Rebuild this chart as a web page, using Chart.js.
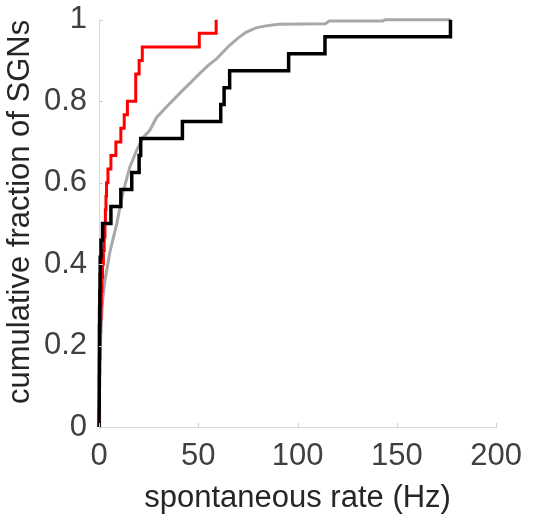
<!DOCTYPE html>
<html>
<head>
<meta charset="utf-8">
<script src="https://cdn.jsdelivr.net/npm/chart.js@4.4.1/dist/chart.umd.min.js"></script>
<style>
  html, body { margin: 0; padding: 0; background: #fff; }
</style>
</head>
<body>
<canvas id="cdfChart" width="533" height="517"></canvas>
<script>
// sorted spontaneous rates (Hz), one per fibre
const redRates = [0.05, 0.1, 0.2, 0.3, 0.4, 0.5, 0.6, 0.8, 1.0, 1.2,
                  1.5, 1.8, 2.2, 2.6, 3.0, 3.2, 3.5, 3.8, 4.5, 6.0,
                  8.5, 11.0, 12.7, 14.3, 18.5, 18.5, 20.2, 21.8, 50.5, 59.0];
const blackRates = [0.05, 0.1, 0.1, 0.15, 0.2, 0.2, 0.3, 0.4, 0.5, 0.6,
                    1.0, 1.8, 6.0, 11.0, 16.5, 20.2, 21.0, 42.0, 61.3, 63.0,
                    65.8, 95.5, 113.8, 177.0];
// gray population curve, read as (rate, fraction) pairs
const grayRates = [0, 0.1, 0.5, 1.0, 1.8, 3.0, 4.8, 5.5, 7.3, 9.0,
                   10.7, 12.3, 15.5, 19.0, 22.0, 25.5, 29.0, 33.8, 42.0, 46.0,
                   50.5, 55.0, 59.0, 65.5, 70.0, 74.0, 79.0, 84.0, 90.5, 114.0,
                   116.0, 143.0, 144.0, 177.0];
const grayFractions = [0, 0.05, 0.15, 0.24, 0.31, 0.36, 0.41, 0.43, 0.466, 0.5,
                       0.544, 0.58, 0.638, 0.68, 0.71, 0.728, 0.76, 0.785, 0.826, 0.845,
                       0.867, 0.888, 0.903, 0.936, 0.955, 0.969, 0.98, 0.985, 0.989, 0.99,
                       0.997, 0.997, 1.0, 1.0];
const xTicks = [0, 50, 100, 150, 200];
const yTicks = [0, 0.2, 0.4, 0.6, 0.8, 1];

// empirical cdf: start at 0 then climb 1/n at each sorted rate
function ecdf(rates) {
  const pts = [{ x: rates[0], y: 0 }];
  rates.forEach((r, i) => pts.push({ x: r, y: (i + 1) / rates.length }));
  return pts;
}

const grayPoints = grayRates.map((r, i) => ({ x: r, y: grayFractions[i] }));

// small tick marks pointing into the plot
const inwardTicks = {
  id: 'inwardTicks',
  afterDatasetsDraw(chart) {
    const { ctx, chartArea: a, scales } = chart;
    ctx.save();
    ctx.strokeStyle = '#cfcfcf';
    ctx.lineWidth = 1;
    ctx.beginPath();
    xTicks.forEach(v => {
      const px = Math.round(scales.x.getPixelForValue(v)) + 0.5;
      ctx.moveTo(px, a.bottom);
      ctx.lineTo(px, a.bottom - 4);
    });
    yTicks.forEach(v => {
      const py = Math.round(scales.y.getPixelForValue(v)) + 0.5;
      ctx.moveTo(a.left, py);
      ctx.lineTo(a.left + 4, py);
    });
    ctx.stroke();
    ctx.restore();
  }
};

const family = "'Liberation Sans', Arial, sans-serif";
const font = { family: family, size: 31 };

new Chart(document.getElementById('cdfChart'), {
  type: 'line',
  data: {
    datasets: [
      { data: ecdf(blackRates), borderColor: '#000000', borderWidth: 3.5, stepped: true },
      { data: ecdf(redRates), borderColor: '#ff0000', borderWidth: 3, stepped: true },
      { data: grayPoints, borderColor: '#a8a8a8', borderWidth: 3 }
    ]
  },
  options: {
    responsive: false,
    animation: false,
    devicePixelRatio: 1,
    layout: { padding: { left: 0, right: 35, top: 17, bottom: 0 } },
    elements: { point: { radius: 0 }, line: { tension: 0, borderJoinStyle: 'miter' } },
    datasets: { line: { clip: 6 } },
    plugins: { legend: { display: false }, tooltip: { enabled: false } },
    scales: {
      x: {
        type: 'linear', min: 0, max: 200,
        afterBuildTicks: s => { s.ticks = xTicks.map(v => ({ value: v })); },
        afterFit: s => { s.height = 90; },
        grid: { drawOnChartArea: false, drawTicks: false },
        border: { color: '#d9d9d9', width: 1 },
        ticks: { color: '#404040', font: font, padding: 11, maxRotation: 0, callback: v => String(v) },
        title: { display: true, text: 'spontaneous rate (Hz)', color: '#262626', font: font, padding: 0 }
      },
      y: {
        type: 'linear', min: 0, max: 1,
        afterBuildTicks: s => { s.ticks = yTicks.map(v => ({ value: v })); },
        afterFit: s => { s.width = 99; },
        grid: { drawOnChartArea: false, drawTicks: false },
        border: { color: '#d9d9d9', width: 1 },
        ticks: { color: '#404040', font: { family: family, size: 31, lineHeight: 0.5 }, padding: 12, callback: v => String(v) },
        title: { display: true, align: 'end', text: 'cumulative fraction of SGNs', color: '#262626', font: font, padding: { top: 2, bottom: 0 } }
      }
    }
  },
  plugins: [inwardTicks]
});
</script>
</body>
</html>
